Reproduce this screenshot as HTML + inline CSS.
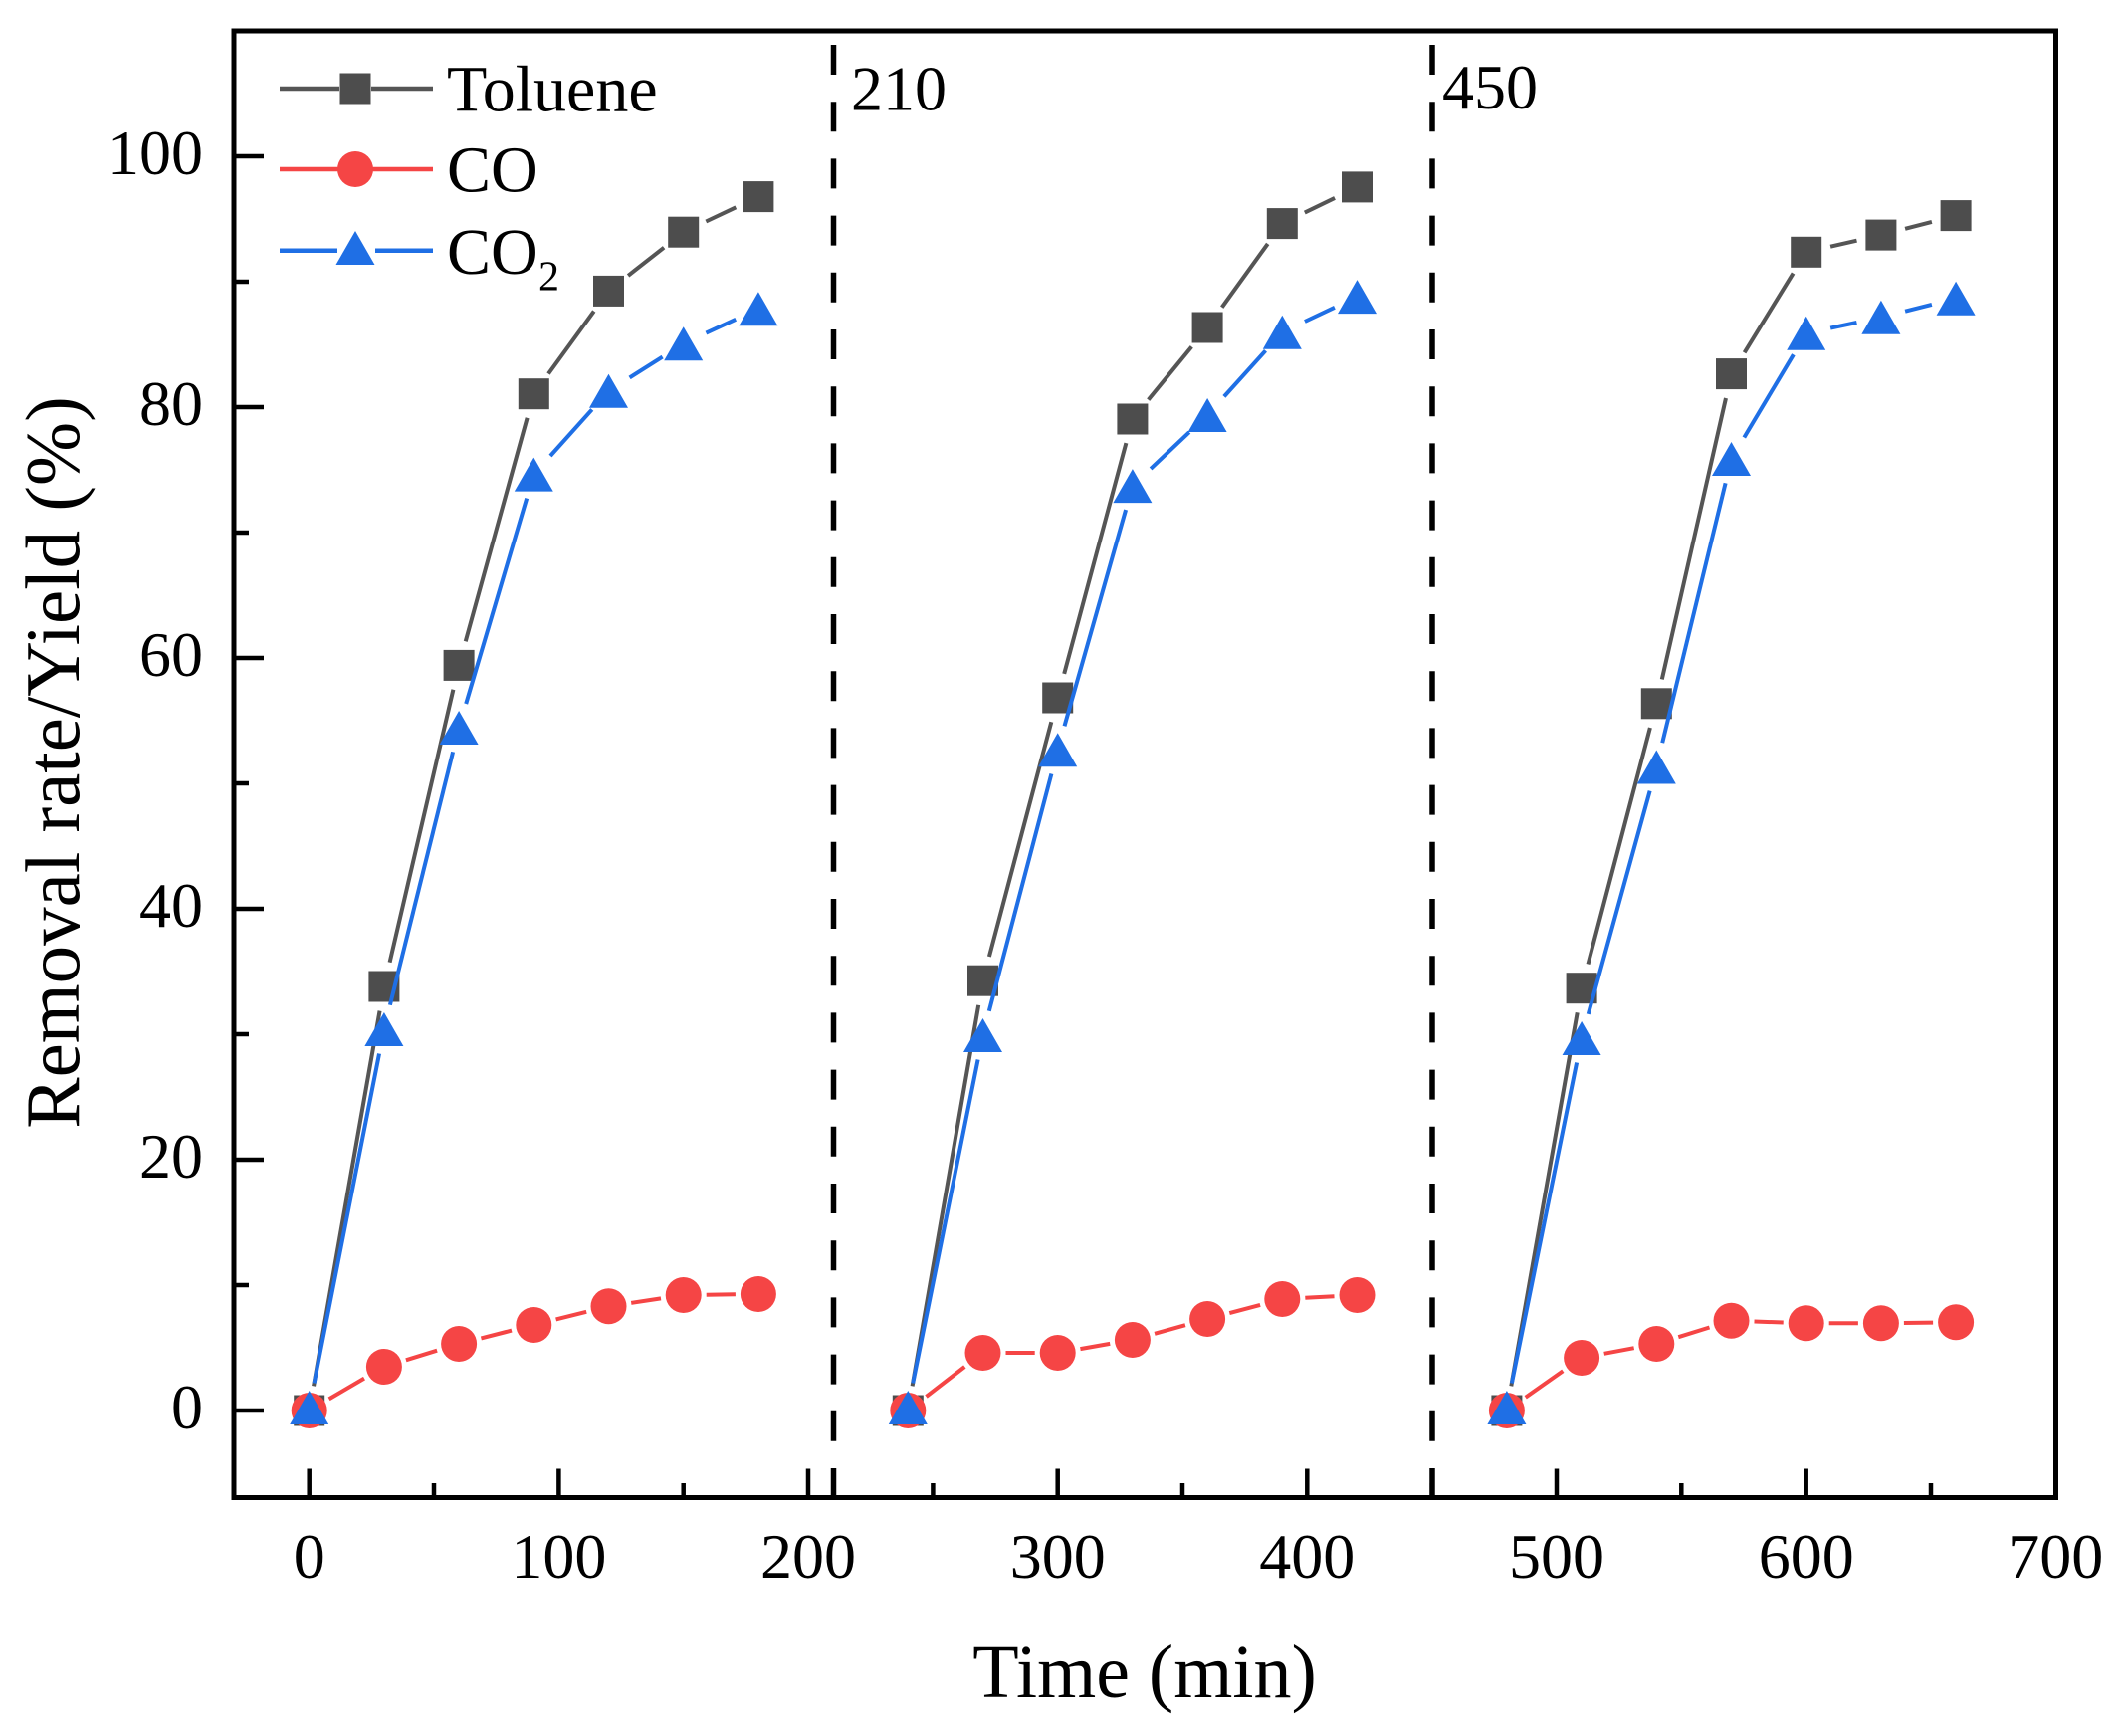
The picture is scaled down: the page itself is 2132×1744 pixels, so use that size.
<!DOCTYPE html>
<html>
<head>
<meta charset="utf-8">
<style>
  html, body { margin: 0; padding: 0; background: #ffffff; }
  svg { display: block; }
  text { font-family: "Liberation Serif", "Times New Roman", serif; fill: #000; }
</style>
</head>
<body>
<svg width="2132" height="1744" viewBox="0 0 2132 1744" xmlns="http://www.w3.org/2000/svg">
  <rect x="0" y="0" width="2132" height="1744" fill="#ffffff"/>

  <!-- dashed separators -->
  <line x1="837.5" y1="45" x2="837.5" y2="1504" stroke="#000" stroke-width="5.5" stroke-dasharray="30 27.2"/>
  <line x1="1439" y1="45" x2="1439" y2="1504" stroke="#000" stroke-width="5.5" stroke-dasharray="30 27.2"/>

  <!-- bottom ticks -->
  <g stroke="#000" stroke-width="4.5">
    <line x1="310.7" y1="1504" x2="310.7" y2="1475.5"/>
    <line x1="436.0" y1="1504" x2="436.0" y2="1490"/>
    <line x1="561.4" y1="1504" x2="561.4" y2="1475.5"/>
    <line x1="686.7" y1="1504" x2="686.7" y2="1490"/>
    <line x1="812.0" y1="1504" x2="812.0" y2="1475.5"/>
    <line x1="937.4" y1="1504" x2="937.4" y2="1490"/>
    <line x1="1062.7" y1="1504" x2="1062.7" y2="1475.5"/>
    <line x1="1188.0" y1="1504" x2="1188.0" y2="1490"/>
    <line x1="1313.3" y1="1504" x2="1313.3" y2="1475.5"/>
    <line x1="1438.7" y1="1504" x2="1438.7" y2="1490"/>
    <line x1="1564.0" y1="1504" x2="1564.0" y2="1475.5"/>
    <line x1="1689.3" y1="1504" x2="1689.3" y2="1490"/>
    <line x1="1814.7" y1="1504" x2="1814.7" y2="1475.5"/>
    <line x1="1940.0" y1="1504" x2="1940.0" y2="1490"/>
  </g>
  <!-- left ticks -->
  <g stroke="#000" stroke-width="4.5">
    <line x1="235" y1="1417" x2="265" y2="1417"/>
    <line x1="235" y1="1291" x2="250" y2="1291"/>
    <line x1="235" y1="1165" x2="265" y2="1165"/>
    <line x1="235" y1="1039" x2="250" y2="1039"/>
    <line x1="235" y1="913" x2="265" y2="913"/>
    <line x1="235" y1="787" x2="250" y2="787"/>
    <line x1="235" y1="661" x2="265" y2="661"/>
    <line x1="235" y1="535" x2="250" y2="535"/>
    <line x1="235" y1="409" x2="265" y2="409"/>
    <line x1="235" y1="283" x2="250" y2="283"/>
    <line x1="235" y1="157" x2="265" y2="157"/>
  </g>

  <!-- frame -->
  <rect x="235" y="31" width="1830.5" height="1473.5" fill="none" stroke="#000" stroke-width="5"/>

  <!-- Toluene lines -->
  <g stroke="#555555" stroke-width="4" stroke-linecap="butt">
    <line x1="315.05" y1="1392.4" x2="381.55" y2="1015.6"/>
    <line x1="391.6" y1="966.65" x2="455.4" y2="692.75"/>
    <line x1="467.75" y1="644.3" x2="529.65" y2="419.8"/>
    <line x1="551" y1="375.5" x2="596.8" y2="312.6"/>
    <line x1="631.1" y1="276.9" x2="667.1" y2="248.7"/>
    <line x1="709.3" y1="222.5" x2="739.3" y2="208.3"/>

    <line x1="916.6" y1="1392.4" x2="983.2" y2="1009.8"/>
    <line x1="993.9" y1="961" x2="1056.3" y2="725.2"/>
    <line x1="1069.2" y1="676.9" x2="1131.4" y2="445.1"/>
    <line x1="1153.7" y1="401.6" x2="1197.3" y2="348.4"/>
    <line x1="1227.7" y1="308.7" x2="1273.7" y2="244.9"/>
    <line x1="1310.8" y1="213.6" x2="1341" y2="198.9"/>

    <line x1="1518.3" y1="1392.4" x2="1584.7" y2="1017.3"/>
    <line x1="1595.5" y1="968.5" x2="1657.9" y2="731"/>
    <line x1="1669.8" y1="682.4" x2="1734" y2="400"/>
    <line x1="1752.6" y1="354.3" x2="1801.6" y2="274.6"/>
    <line x1="1839.1" y1="247.7" x2="1865.5" y2="241.7"/>
    <line x1="1914.1" y1="229.8" x2="1940.9" y2="222.9"/>
  </g>
  <!-- Toluene markers -->
  <g fill="#4d4d4d">
    <rect x="295.2" y="1401.5" width="31" height="31"/>
    <rect x="370.4" y="975.5" width="31" height="31"/>
    <rect x="445.6" y="652.9" width="31" height="31"/>
    <rect x="520.8" y="380.2" width="31" height="31"/>
    <rect x="596.0" y="276.9" width="31" height="31"/>
    <rect x="671.2" y="217.7" width="31" height="31"/>
    <rect x="746.4" y="182.1" width="31" height="31"/>

    <rect x="896.8" y="1401.5" width="31" height="31"/>
    <rect x="972.0" y="969.7" width="31" height="31"/>
    <rect x="1047.2" y="685.5" width="31" height="31"/>
    <rect x="1122.4" y="405.5" width="31" height="31"/>
    <rect x="1197.6" y="313.5" width="31" height="31"/>
    <rect x="1272.8" y="209.1" width="31" height="31"/>
    <rect x="1348.0" y="172.4" width="31" height="31"/>

    <rect x="1498.4" y="1401.5" width="31" height="31"/>
    <rect x="1573.6" y="977.2" width="31" height="31"/>
    <rect x="1648.8" y="691.3" width="31" height="31"/>
    <rect x="1724.0" y="360.1" width="31" height="31"/>
    <rect x="1799.2" y="237.8" width="31" height="31"/>
    <rect x="1874.4" y="220.6" width="31" height="31"/>
    <rect x="1949.6" y="201.1" width="31" height="31"/>
  </g>

  <!-- CO lines -->
  <g stroke="#f54545" stroke-width="4">
    <line x1="330.6" y1="1405.4" x2="366" y2="1384.6"/>
    <line x1="407.9" y1="1366.3" x2="439.1" y2="1356.7"/>
    <line x1="483.4" y1="1344.4" x2="514" y2="1336.6"/>
    <line x1="558.6" y1="1325.45" x2="589.2" y2="1317.85"/>
    <line x1="634.2" y1="1308.9" x2="664" y2="1304.4"/>
    <line x1="709.7" y1="1300.7" x2="738.9" y2="1300.3"/>

    <line x1="930.5" y1="1403" x2="969.3" y2="1373"/>
    <line x1="1010.5" y1="1359" x2="1039.7" y2="1359"/>
    <line x1="1085.4" y1="1355.1" x2="1115.2" y2="1349.9"/>
    <line x1="1160.05" y1="1339.8" x2="1190.95" y2="1331.2"/>
    <line x1="1235.3" y1="1319.1" x2="1266.1" y2="1310.9"/>
    <line x1="1311.3" y1="1303.8" x2="1340.5" y2="1302.2"/>

    <line x1="1532.7" y1="1403.75" x2="1570.3" y2="1377.25"/>
    <line x1="1611.7" y1="1359.8" x2="1641.7" y2="1354.2"/>
    <line x1="1686.3" y1="1343.2" x2="1717.5" y2="1333.5"/>
    <line x1="1762.5" y1="1327.5" x2="1791.7" y2="1328.5"/>
    <line x1="1837.7" y1="1329.3" x2="1866.9" y2="1329.3"/>
    <line x1="1912.9" y1="1329" x2="1942.1" y2="1328.6"/>
  </g>
  <!-- CO markers -->
  <g fill="#f54545">
    <circle cx="310.7" cy="1417" r="18"/>
    <circle cx="385.9" cy="1373" r="18"/>
    <circle cx="461.1" cy="1350" r="18"/>
    <circle cx="536.3" cy="1331" r="18"/>
    <circle cx="611.5" cy="1312.3" r="18"/>
    <circle cx="686.7" cy="1301" r="18"/>
    <circle cx="761.9" cy="1300" r="18"/>

    <circle cx="912.3" cy="1417" r="18"/>
    <circle cx="987.5" cy="1359" r="18"/>
    <circle cx="1062.7" cy="1359" r="18"/>
    <circle cx="1137.9" cy="1346" r="18"/>
    <circle cx="1213.1" cy="1325" r="18"/>
    <circle cx="1288.3" cy="1305" r="18"/>
    <circle cx="1363.5" cy="1301" r="18"/>

    <circle cx="1513.9" cy="1417" r="18"/>
    <circle cx="1589.1" cy="1364" r="18"/>
    <circle cx="1664.3" cy="1350" r="18"/>
    <circle cx="1739.5" cy="1326.7" r="18"/>
    <circle cx="1814.7" cy="1329.3" r="18"/>
    <circle cx="1889.9" cy="1329.3" r="18"/>
    <circle cx="1965.1" cy="1328.3" r="18"/>
  </g>

  <!-- CO2 lines -->
  <g stroke="#1f6fe5" stroke-width="4">
    <line x1="315.6" y1="1389.5" x2="381.05" y2="1058.5"/>
    <line x1="391.9" y1="1009.7" x2="455.1" y2="755.3"/>
    <line x1="468.2" y1="707" x2="529.2" y2="500.6"/>
    <line x1="553" y1="458" x2="594.8" y2="411.4"/>
    <line x1="632.6" y1="379.4" x2="665.6" y2="358.6"/>
    <line x1="709.4" y1="334.6" x2="739.2" y2="320.8"/>

    <line x1="917.2" y1="1389.5" x2="982.6" y2="1064.5"/>
    <line x1="993.8" y1="1015.8" x2="1056.4" y2="777.5"/>
    <line x1="1069.5" y1="729.3" x2="1131.1" y2="512.1"/>
    <line x1="1156.1" y1="470.9" x2="1194.9" y2="434.2"/>
    <line x1="1229.9" y1="398.4" x2="1271.5" y2="352.3"/>
    <line x1="1310.9" y1="323" x2="1340.9" y2="308.8"/>

    <line x1="1518.9" y1="1389.5" x2="1584.1" y2="1067.5"/>
    <line x1="1595.75" y1="1018.9" x2="1657.65" y2="794.6"/>
    <line x1="1670.2" y1="746.2" x2="1733.6" y2="485.3"/>
    <line x1="1752.3" y1="439.5" x2="1801.9" y2="356.3"/>
    <line x1="1839.15" y1="329.6" x2="1865.45" y2="324"/>
    <line x1="1914.1" y1="312.7" x2="1940.9" y2="305.9"/>
  </g>
  <!-- CO2 markers (triangles, w=39, h=34) -->
  <g fill="#1f6fe5">
    <polygon points="310.7,1397 291.2,1431 330.2,1431"/>
    <polygon points="385.9,1017 366.4,1051 405.4,1051"/>
    <polygon points="461.1,714 441.6,748 480.6,748"/>
    <polygon points="536.3,459.6 516.8,493.6 555.8,493.6"/>
    <polygon points="611.5,375.8 592,409.8 631,409.8"/>
    <polygon points="686.7,328.2 667.2,362.2 706.2,362.2"/>
    <polygon points="761.9,293.2 742.4,327.2 781.4,327.2"/>

    <polygon points="912.3,1397 892.8,1431 931.8,1431"/>
    <polygon points="987.5,1023 968,1057 1007,1057"/>
    <polygon points="1062.7,736.3 1043.2,770.3 1082.2,770.3"/>
    <polygon points="1137.9,471.1 1118.4,505.1 1157.4,505.1"/>
    <polygon points="1213.1,400 1193.6,434 1232.6,434"/>
    <polygon points="1288.3,316.7 1268.8,350.7 1307.8,350.7"/>
    <polygon points="1363.5,281.1 1344,315.1 1383,315.1"/>

    <polygon points="1513.9,1397 1494.4,1431 1533.4,1431"/>
    <polygon points="1589.1,1026 1569.6,1060 1608.6,1060"/>
    <polygon points="1664.3,753.5 1644.8,787.5 1683.8,787.5"/>
    <polygon points="1739.5,444 1720,478 1759,478"/>
    <polygon points="1814.7,317.8 1795.2,351.8 1834.2,351.8"/>
    <polygon points="1889.9,301.8 1870.4,335.8 1909.4,335.8"/>
    <polygon points="1965.1,282.8 1945.6,316.8 1984.6,316.8"/>
  </g>

  <!-- Legend -->
  <g>
    <line x1="281" y1="89" x2="341" y2="89" stroke="#555555" stroke-width="4.5"/>
    <line x1="373" y1="89" x2="435" y2="89" stroke="#555555" stroke-width="4.5"/>
    <rect x="341.5" y="73.5" width="31" height="31" fill="#4d4d4d"/>
    <text x="449" y="111.7" font-size="66">Toluene</text>

    <line x1="281" y1="170" x2="435" y2="170" stroke="#f54545" stroke-width="4.5"/>
    <circle cx="357" cy="170" r="18" fill="#f54545"/>
    <text x="449" y="192.7" font-size="66">CO</text>

    <line x1="281" y1="251.7" x2="339" y2="251.7" stroke="#1f6fe5" stroke-width="4.5"/>
    <line x1="377" y1="251.7" x2="435" y2="251.7" stroke="#1f6fe5" stroke-width="4.5"/>
    <polygon points="357,232 337.5,266 376.5,266" fill="#1f6fe5"/>
    <text x="449" y="275" font-size="66">CO</text>
    <text x="541" y="291.7" font-size="42">2</text>
  </g>

  <!-- annotations -->
  <text x="855" y="110.5" font-size="64">210</text>
  <text x="1449" y="109" font-size="64">450</text>

  <!-- Y tick labels -->
  <g font-size="64" text-anchor="end">
    <text x="204" y="1435">0</text>
    <text x="204" y="1183">20</text>
    <text x="204" y="931">40</text>
    <text x="204" y="679">60</text>
    <text x="204" y="427">80</text>
    <text x="204" y="175">100</text>
  </g>

  <!-- X tick labels -->
  <g font-size="64" text-anchor="middle">
    <text x="310.7" y="1585">0</text>
    <text x="561.4" y="1585">100</text>
    <text x="812.0" y="1585">200</text>
    <text x="1062.7" y="1585">300</text>
    <text x="1313.3" y="1585">400</text>
    <text x="1564.0" y="1585">500</text>
    <text x="1814.7" y="1585">600</text>
    <text x="2065.3" y="1585">700</text>
  </g>

  <!-- Axis titles -->
  <text x="1150" y="1705" font-size="76" text-anchor="middle">Time (min)</text>
  <text x="0" y="0" font-size="77" text-anchor="middle" transform="translate(79,766) rotate(-90)">Removal rate/Yield (%)</text>
</svg>
</body>
</html>
